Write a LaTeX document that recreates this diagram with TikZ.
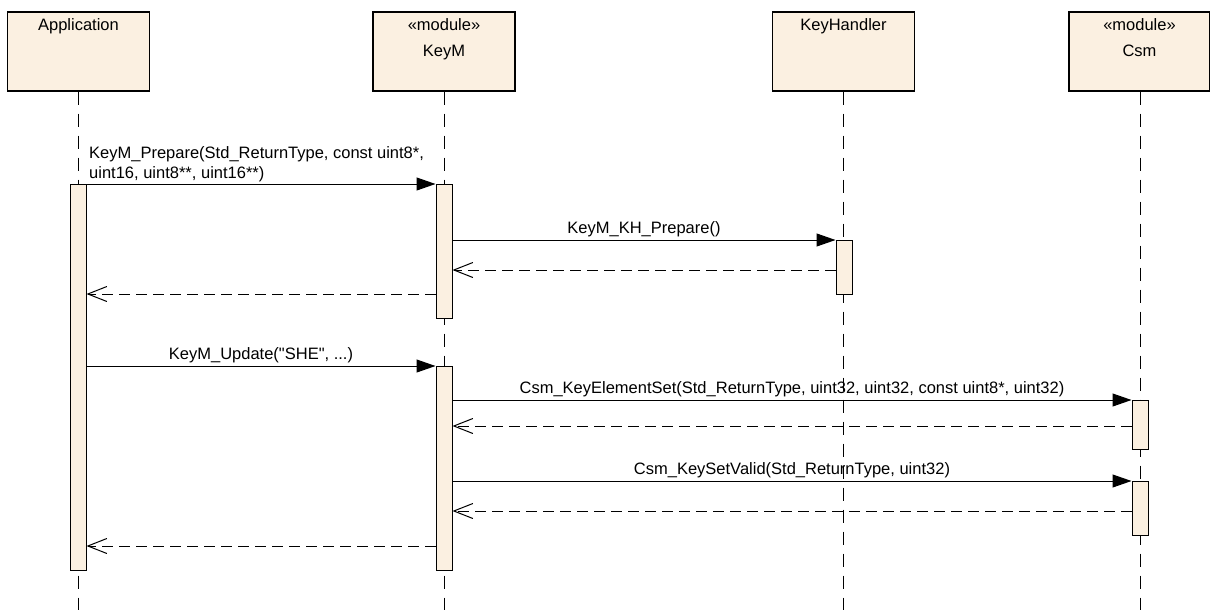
\documentclass[tikz,border=0pt]{standalone}
\usepackage{fontspec}
\newfontfamily\plainsans{Liberation Sans}
\usetikzlibrary{arrows.meta}
\definecolor{umlfill}{RGB}{251,240,225}
\begin{document}
\begin{tikzpicture}[x=1pt,y=-1pt,
  txt/.style={font=\plainsans\fontsize{16.5}{20}\selectfont, inner sep=0},
  boxtitle/.style={txt, anchor=base},
  lifebox/.style={draw, line width=1.2pt, fill=umlfill, minimum width=142pt, minimum height=79pt, inner sep=0},
  actbar/.style={draw, line width=1pt, fill=umlfill, minimum width=16pt, inner sep=0},
  lifeline/.style={line width=1pt, dash pattern=on 13pt off 9pt},
  syncmsg/.style={line width=1pt, -{Triangle[length=19pt,width=13pt]}},
  retmsg/.style={line width=1pt, dash pattern=on 11pt off 6pt, -{Straight Barb[length=19pt,width=15pt]}},
  msglabel/.style={txt, anchor=base}]
\useasboundingbox (0,0) rectangle (1210,610);
\coordinate (bottom) at (0,610);
% participants
\node[lifebox] (app) at (78.5,51.5) {};
\node[lifebox] (keym) at (444,51.5) {};
\node[lifebox] (kh) at (843.5,51.5) {};
\node[lifebox, minimum width=141pt] (csm) at (1139.5,51.5) {};
\node[boxtitle] (appT) at (78.5,31) {Application};
\node[boxtitle] (keymS) at (444,31) {«module»};
\node[boxtitle] (keymT) at (444,57) {KeyM};
\node[boxtitle] (khT) at (843.5,31) {KeyHandler};
\node[boxtitle] (csmS) at (1139.5,31) {«module»};
\node[boxtitle] (csmT) at (1139.5,57) {Csm};
% lifelines
\draw[lifeline] (app.south) -- (app.south |- bottom);
\draw[lifeline] (keym.south) -- (keym.south |- bottom);
\draw[lifeline] (kh.south) -- (kh.south |- bottom);
\draw[lifeline] ([xshift=0.5pt]csm.south) -- ([xshift=0.5pt]csm.south |- bottom);
% activation bars
\node[actbar, minimum height=386pt] (appbar) at (78,377) {};
\node[actbar, minimum height=134pt] (keym1) at (444,251) {};
\node[actbar, minimum height=54pt] (kh1) at (844,267) {};
\node[actbar, minimum height=204pt] (keym2) at (444,468) {};
\node[actbar, minimum height=49pt] (csm1) at (1140,424.5) {};
\node[actbar, minimum height=54pt] (csm2) at (1140,508) {};
% message rows
\coordinate (m1) at (0,184);
\coordinate (m2) at (0,240);
\coordinate (m3) at (0,270);
\coordinate (m4) at (0,294);
\coordinate (m5) at (0,366);
\coordinate (m6) at (0,400);
\coordinate (m7) at (0,426);
\coordinate (m8) at (0,481);
\coordinate (m9) at (0,511);
\coordinate (m10) at (0,546);
% messages
\draw[syncmsg] (appbar.east |- m1) -- (keym1.west |- m1);
\node[txt, anchor=south west, align=left] (l1) at (89,182) {KeyM\_Prepare(Std\_ReturnType, const uint8*,\\uint16, uint8**, uint16**)};
\draw[syncmsg] (keym1.east |- m2) -- (kh1.west |- m2);
\node[msglabel] (l2) at (644,233) {KeyM\_KH\_Prepare()};
\draw[retmsg] (kh1.west |- m3) -- (keym1.east |- m3);
\draw[retmsg] (keym1.west |- m4) -- (appbar.east |- m4);
\draw[syncmsg] (appbar.east |- m5) -- (keym2.west |- m5);
\node[msglabel] (l5) at (261,359) {KeyM\_Update("SHE", ...)};
\draw[syncmsg] (keym2.east |- m6) -- (csm1.west |- m6);
\node[msglabel] (l6) at (792,393) {Csm\_KeyElementSet(Std\_ReturnType, uint32, uint32, const uint8*, uint32)};
\draw[retmsg] (csm1.west |- m7) -- (keym2.east |- m7);
\draw[syncmsg] (keym2.east |- m8) -- (csm2.west |- m8);
\node[msglabel] (l8) at (792,474) {Csm\_KeySetValid(Std\_ReturnType, uint32)};
\draw[retmsg] (csm2.west |- m9) -- (keym2.east |- m9);
\draw[retmsg] (keym2.west |- m10) -- (appbar.east |- m10);
\end{tikzpicture}
\end{document}
